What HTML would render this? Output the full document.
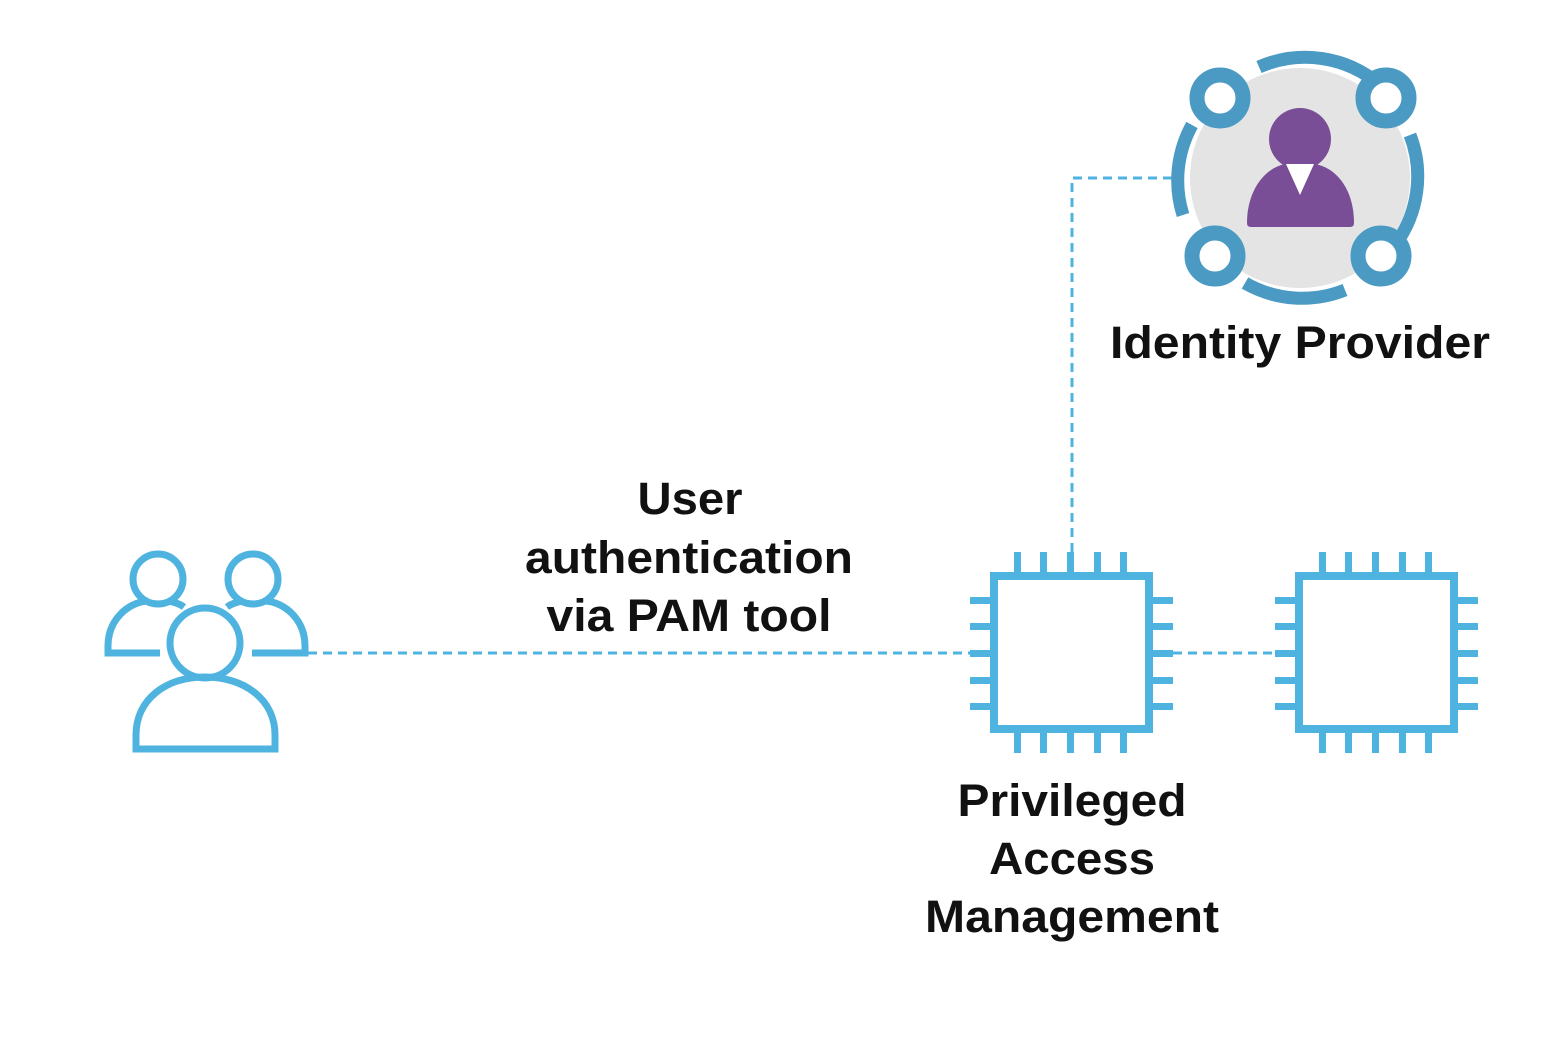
<!DOCTYPE html>
<html><head><style>
html,body{margin:0;padding:0;background:#fff;}
svg{display:block}
text{font-family:"Liberation Sans",Arial,sans-serif;font-weight:bold;font-size:45px;fill:#111;text-anchor:middle}
</style></head><body>
<svg width="1564" height="1052" viewBox="0 0 1564 1052" xmlns="http://www.w3.org/2000/svg">
<g stroke="#4fb3e0" stroke-width="3" stroke-dasharray="9 6" fill="none">
<path d="M308 653 H970"/>
<path d="M1173 653 H1277"/>
<path d="M1072 552 V178 H1172"/>
</g>
<g stroke="#4fb3e0" stroke-width="7" fill="none" stroke-linecap="butt">
<circle cx="158" cy="579" r="25"/>
<circle cx="253" cy="579" r="25"/>
<circle cx="205" cy="643" r="35"/>
<path d="M136 749 V735 C136 700 165 677 205 677 C245 677 275 700 275 735 V749 Z"/>
<path d="M160 653 H108 V646 C108 620 128 602 148 601"/>
<path d="M168 601 C174 602 180 604 184 607"/>
<path d="M252 653 H305 V646 C305 620 285 602 265 601"/>
<path d="M243 601 C237 602 231 604 227 607"/>
</g>
<g id="chip" fill="#4fb3e0">
<rect x="994" y="576" width="155" height="153" fill="none" stroke="#4fb3e0" stroke-width="8"/>
<rect x="1014" y="552" width="7" height="22"/><rect x="1040" y="552" width="7" height="22"/><rect x="1067" y="552" width="7" height="22"/><rect x="1094" y="552" width="7" height="22"/><rect x="1120" y="552" width="7" height="22"/>
<rect x="1014" y="731" width="7" height="22"/><rect x="1040" y="731" width="7" height="22"/><rect x="1067" y="731" width="7" height="22"/><rect x="1094" y="731" width="7" height="22"/><rect x="1120" y="731" width="7" height="22"/>
<rect x="970" y="597" width="22" height="7"/><rect x="970" y="623" width="22" height="7"/><rect x="970" y="650" width="22" height="7"/><rect x="970" y="677" width="22" height="7"/><rect x="970" y="703" width="22" height="7"/>
<rect x="1151" y="597" width="22" height="7"/><rect x="1151" y="623" width="22" height="7"/><rect x="1151" y="650" width="22" height="7"/><rect x="1151" y="677" width="22" height="7"/><rect x="1151" y="703" width="22" height="7"/>
</g>
<use href="#chip" transform="translate(305,0)"/>
<circle cx="1300" cy="178" r="110" fill="#e4e4e4"/>
<g stroke="#4a9ac4" stroke-width="13" fill="none">
<path d="M1259 67 A115 115 0 0 1 1380 85"/>
<path d="M1410 135 A115 115 0 0 1 1395 245"/>
<path d="M1345 290 A115 115 0 0 1 1245 283"/>
<path d="M1183 215 A115 115 0 0 1 1192 125"/>
</g>
<g stroke="#4a9ac4" stroke-width="15" fill="#fff">
<circle cx="1220" cy="98" r="23"/>
<circle cx="1386" cy="98" r="23"/>
<circle cx="1215" cy="256" r="23"/>
<circle cx="1381" cy="256" r="23"/>
</g>
<g fill="#7a4e96">
<circle cx="1300" cy="139" r="31"/>
<path d="M1247 223 C1247 190 1265 168 1285 164 L1315 164 C1337 168 1354 190 1354 223 Q1354 227 1350 227 L1251 227 Q1247 227 1247 223 Z"/>
</g>
<path d="M1286 164 L1314 164 L1300 195 Z" fill="#fff"/>
<text x="1300" y="358" textLength="380" lengthAdjust="spacingAndGlyphs">Identity Provider</text>
<text x="690" y="514" textLength="105" lengthAdjust="spacingAndGlyphs">User</text>
<text x="689" y="573" textLength="328" lengthAdjust="spacingAndGlyphs">authentication</text>
<text x="689" y="631" textLength="285" lengthAdjust="spacingAndGlyphs">via PAM tool</text>
<text x="1072" y="816" textLength="229" lengthAdjust="spacingAndGlyphs">Privileged</text>
<text x="1072" y="874" textLength="166" lengthAdjust="spacingAndGlyphs">Access</text>
<text x="1072" y="932" textLength="294" lengthAdjust="spacingAndGlyphs">Management</text>
</svg>
</body></html>
